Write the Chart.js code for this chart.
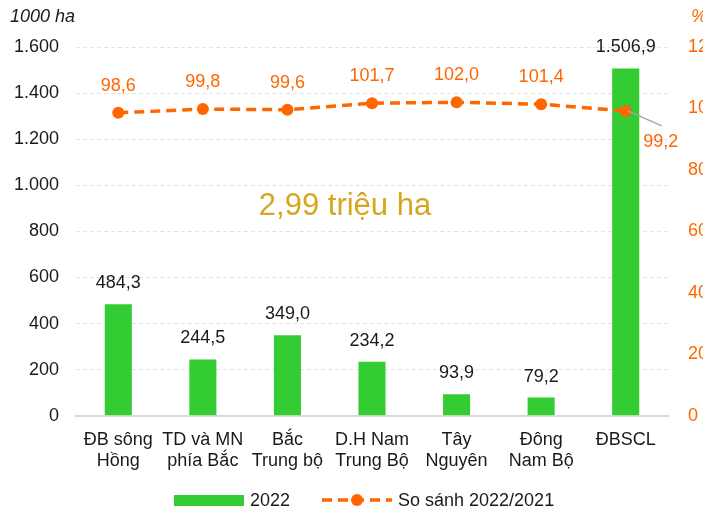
<!DOCTYPE html>
<html>
<head>
<meta charset="utf-8">
<script src="https://cdn.jsdelivr.net/npm/chart.js@4.4.0/dist/chart.umd.min.js"></script>
<style>
  body { margin: 0; overflow: hidden; background: #fff; }
  #wrap { width: 735px; height: 515px; }
</style>
</head>
<body>
<div id="wrap"><canvas id="myChart"></canvas></div>
<script>
// vùng
const regions = [
  ['ĐB sông', 'Hồng'],
  ['TD và MN', 'phía Bắc'],
  ['Bắc', 'Trung bộ'],
  ['D.H Nam', 'Trung Bộ'],
  ['Tây', 'Nguyên'],
  ['Đông', 'Nam Bộ'],
  ['ĐBSCL']
];
const area2022 = [484.3, 244.5, 349.0, 234.2, 93.9, 79.2, 1506.9];
const ratio = [98.6, 99.8, 99.6, 101.7, 102.0, 101.4, 99.2];
const leftTicks = [0, 200, 400, 600, 800, 1000, 1200, 1400, 1600];
const rightTicks = [0, 20, 40, 60, 80, 100, 120];

const GREEN = '#33cc33';
const ORANGE = '#ff6600';
const FONT = '"Liberation Sans", Arial, sans-serif';

function vn(v, d) {
  // 1506.9 -> 1.506,9
  let s = v.toFixed(d);
  let parts = s.split('.');
  parts[0] = parts[0].replace(/\B(?=(\d{3})+(?!\d))/g, '.');
  return parts.length > 1 ? parts[0] + ',' + parts[1] : parts[0];
}

const extras = {
  id: 'extras',
  afterDatasetsDraw(chart) {
    const c = chart.ctx;
    c.save();
    c.textAlign = 'center';
    c.textBaseline = 'middle';

    // bar values (dataset 1)
    c.font = '18px ' + FONT;
    c.fillStyle = '#1a1a1a';
    chart.getDatasetMeta(1).data.forEach((bar, i) => {
      c.fillText(vn(area2022[i], 1), bar.x, bar.y - 21);
    });

    // line values (dataset 0)
    c.fillStyle = ORANGE;
    chart.getDatasetMeta(0).data.forEach((pt, i) => {
      if (i === ratio.length - 1) {
        c.strokeStyle = '#a6a6a6';
        c.lineWidth = 1.5;
        c.beginPath();
        c.moveTo(pt.x + 2, pt.y);
        c.lineTo(pt.x + 36, pt.y + 15);
        c.stroke();
        c.fillText(vn(ratio[i], 1), pt.x + 35, pt.y + 31);
      } else {
        c.fillText(vn(ratio[i], 1), pt.x, pt.y - 27);
      }
    });

    // total
    c.font = '31px ' + FONT;
    c.fillStyle = '#d4a71f';
    c.fillText('2,99 triệu ha', 345, 206);

    // unit labels
    c.font = 'italic 18px ' + FONT;
    c.textAlign = 'left';
    c.fillStyle = '#1a1a1a';
    c.fillText('1000 ha', 10, 17);
    c.fillStyle = ORANGE;
    c.fillText('%', 691, 17);

    // legend
    const ly = 500;
    c.fillStyle = GREEN;
    c.fillRect(174, ly - 5, 70, 11);
    c.font = '18px ' + FONT;
    c.fillStyle = '#1a1a1a';
    c.fillText('2022', 250, ly + 1);
    c.strokeStyle = ORANGE;
    c.lineWidth = 3.5;
    c.setLineDash([10, 6]);
    c.beginPath();
    c.moveTo(322, ly);
    c.lineTo(392, ly);
    c.stroke();
    c.setLineDash([]);
    c.fillStyle = ORANGE;
    c.beginPath();
    c.arc(357, ly, 6, 0, Math.PI * 2);
    c.fill();
    c.fillStyle = '#1a1a1a';
    c.fillText('So sánh 2022/2021', 398, ly + 1);
    c.restore();
  }
};

const ctx = document.getElementById('myChart');

let chart = new Chart(ctx, {
  data: {
    labels: regions,
    datasets: [{
      type: 'line',
      label: 'So sánh 2022/2021',
      data: ratio,
      yAxisID: 'y1',
      borderColor: ORANGE,
      backgroundColor: ORANGE,
      borderWidth: 3.5,
      borderDash: [10, 6],
      pointRadius: 6,
      pointBackgroundColor: ORANGE,
      pointBorderWidth: 0,
      order: 0
    }, {
      type: 'bar',
      label: '2022',
      data: area2022,
      yAxisID: 'y',
      backgroundColor: GREEN,
      barPercentage: 0.32,
      categoryPercentage: 1,
      order: 1
    }]
  },
  options: {
    responsive: true,
    maintainAspectRatio: false,
    animation: false,
    layout: { autoPadding: false, padding: { left: 14, right: 17, top: 47, bottom: 38 } },
    plugins: {
      legend: { display: false },
      tooltip: { enabled: false }
    },
    scales: {
      x: {
        grid: { display: false },
        border: { display: true, color: '#d9d9d9', width: 2 },
        ticks: { color: '#1a1a1a', font: { size: 18, family: FONT }, padding: 5, maxRotation: 0, autoSkip: false }
      },
      y: {
        position: 'left',
        min: 0,
        max: 1600,
        afterBuildTicks: (axis) => { axis.ticks = leftTicks.map(v => ({ value: v })); },
        afterFit: (axis) => { axis.width = 62; },
        ticks: {
          color: '#1a1a1a',
          font: { size: 18, family: FONT },
          padding: 17,
          callback: (v) => vn(v, 0)
        },
        border: { display: false, dash: [4, 3] },
        grid: {
          drawTicks: false,
          color: (c) => c.tick && c.tick.value === 0 ? 'rgba(0,0,0,0)' : '#e3e3e3'
        }
      },
      y1: {
        position: 'right',
        min: 0,
        max: 120,
        afterBuildTicks: (axis) => { axis.ticks = rightTicks.map(v => ({ value: v })); },
        afterFit: (axis) => { axis.width = 50; },
        ticks: { color: ORANGE, font: { size: 18, family: FONT }, padding: 20 },
        border: { display: false },
        grid: { display: false, drawTicks: false }
      }
    }
  },
  plugins: [extras]
});
</script>
</body>
</html>
